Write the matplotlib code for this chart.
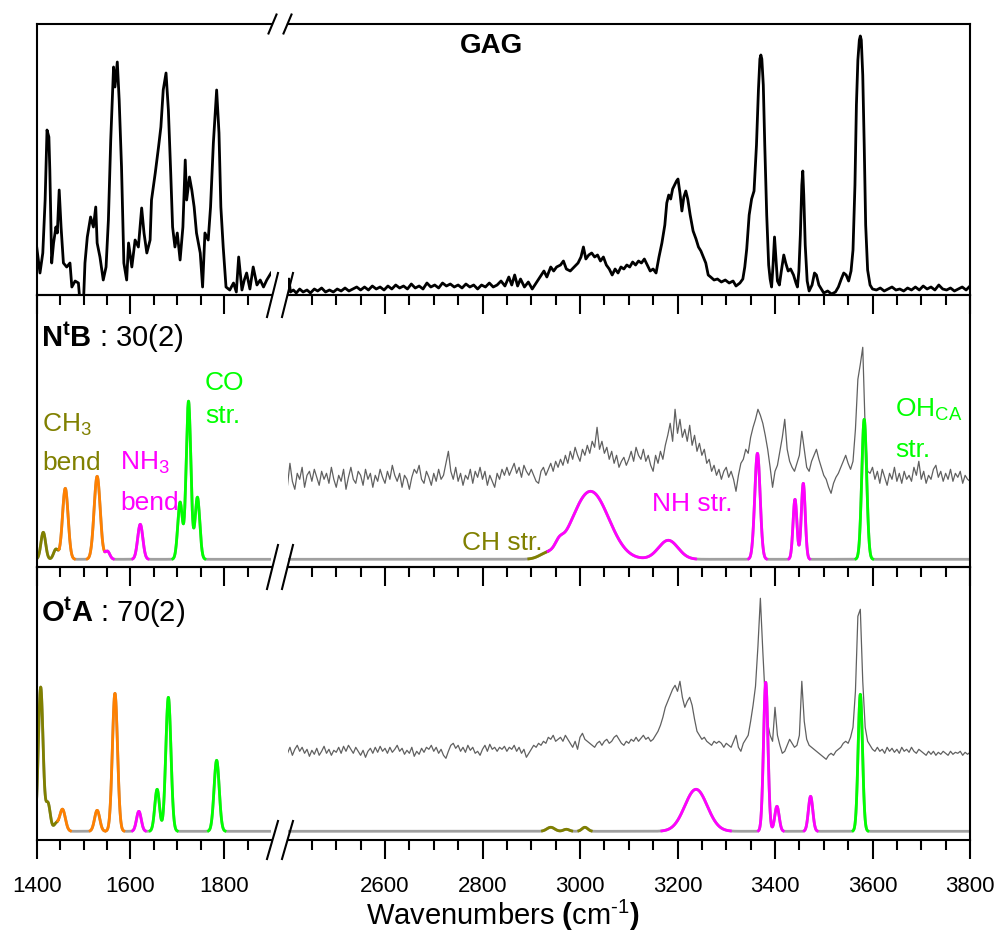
import numpy as np
import matplotlib
matplotlib.use("Agg")
import matplotlib.pyplot as plt
from matplotlib.lines import Line2D

plt.rcParams["font.family"] = ["Liberation Sans", "DejaVu Sans"]
plt.rcParams["mathtext.fontset"] = "custom"
plt.rcParams["mathtext.rm"] = "Liberation Sans"
plt.rcParams["mathtext.it"] = "Liberation Sans:italic"
plt.rcParams["mathtext.bf"] = "Liberation Sans:bold"
plt.rcParams["mathtext.default"] = "regular"

# --------------------------------------------------------------------------
# Experimental spectra (arb. intensity, read off the figure)
# --------------------------------------------------------------------------

# GAG action spectrum, low-frequency window
gag_lo_x = [1400, 1407, 1413, 1418, 1422, 1426, 1428, 1432, 1436, 1441, 1444, 1448, 1452,
            1457, 1464, 1471, 1475, 1482, 1489, 1492, 1500, 1503, 1508, 1515, 1521, 1526,
            1529, 1535, 1542, 1548, 1553, 1558, 1564, 1567, 1572, 1576, 1581, 1586, 1592,
            1596, 1603, 1610, 1617, 1624, 1629, 1635, 1642, 1645, 1653, 1660, 1665, 1670,
            1676, 1681, 1686, 1690, 1695, 1700, 1706, 1712, 1717, 1720, 1726, 1731, 1736,
            1741, 1749, 1754, 1759, 1766, 1771, 1777, 1784, 1789, 1793, 1798, 1804, 1812,
            1820, 1826, 1831, 1838, 1843, 1848, 1855, 1862, 1870, 1877, 1884, 1891, 1900]
gag_lo_y = [48, 22, 42, 95, 165, 158, 125, 32, 52, 68, 62, 105, 68,
            32, 28, 32, 8, 14, 12, -5, -5, 32, 58, 78, 68, 88,
            52, 38, 15, 28, 75, 155, 228, 208, 233, 195, 128, 32, 15,
            52, 28, 55, 48, 87, 62, 42, 55, 95, 122, 148, 168, 205,
            222, 185, 122, 68, 48, 62, 35, 68, 135, 95, 118, 105, 88,
            62, 42, 8, 62, 55, 88, 152, 205, 162, 88, 48, 8, 5,
            12, 3, 38, 5, 15, 22, 6, 28, 10, 15, 8, 15, 22]

# GAG action spectrum, high-frequency window
gag_hi_x = [2400, 2403, 2406, 2412, 2418, 2425, 2432, 2440, 2447, 2455, 2462, 2470, 2478,
            2486, 2494, 2502, 2510, 2518, 2526, 2534, 2542, 2550, 2558, 2566, 2574, 2582,
            2590, 2598, 2606, 2614, 2622, 2630, 2638, 2646, 2654, 2662, 2670, 2678, 2686,
            2694, 2702, 2710, 2718, 2726, 2734, 2742, 2750, 2758, 2766, 2774, 2782, 2790,
            2798, 2806, 2814, 2822, 2830, 2838, 2846, 2854, 2860, 2866, 2872, 2878, 2886,
            2894, 2902, 2910, 2918, 2926, 2932, 2940, 2946, 2952, 2960, 2966, 2972, 2980,
            2988, 2996, 3002, 3007, 3012, 3018, 3024, 3030, 3036, 3042, 3048, 3054, 3060,
            3066, 3072, 3078, 3084, 3090, 3096, 3102, 3108, 3114, 3120, 3126, 3132, 3138,
            3144, 3150, 3156, 3162, 3168, 3174, 3178, 3182, 3186, 3190, 3194, 3198, 3201,
            3205, 3209, 3213, 3217, 3221, 3226, 3232, 3238, 3243, 3248, 3253, 3258, 3263,
            3268, 3275, 3282, 3290, 3298, 3306, 3314, 3320, 3328, 3334, 3338, 3342, 3347,
            3352, 3357, 3362, 3366, 3369, 3371, 3373, 3376, 3379, 3383, 3387, 3390, 3393,
            3396, 3399, 3402, 3405, 3409, 3413, 3418, 3422, 3427, 3432, 3438, 3443, 3446,
            3449, 3452, 3455, 3457, 3459, 3462, 3466, 3470, 3476, 3481, 3485, 3490, 3495,
            3500, 3508, 3516, 3524, 3530, 3536, 3541, 3546, 3551, 3556, 3560, 3564, 3567,
            3570, 3573, 3575, 3577, 3580, 3583, 3586, 3590, 3595, 3600, 3608, 3616, 3624,
            3632, 3640, 3648, 3656, 3664, 3672, 3680, 3688, 3696, 3704, 3712, 3720, 3728,
            3736, 3744, 3752, 3760, 3768, 3776, 3784, 3792, 3800]
gag_hi_y = [3, 16, 3, 5, 2, 6, 3, 5, 2, 6, 4, 7, 3,
            5, 3, 6, 4, 7, 4, 6, 8, 5, 8, 5, 9, 6,
            8, 5, 9, 6, 10, 7, 9, 6, 11, 7, 9, 6, 12,
            8, 10, 7, 12, 9, 11, 8, 10, 7, 11, 8, 10, 6,
            10, 8, 12, 8, 10, 14, 9, 18, 10, 20, 9, 16, 8,
            13, 6, 12, 18, 24, 18, 28, 24, 28, 30, 34, 26, 24,
            28, 32, 38, 48, 36, 40, 42, 38, 40, 34, 38, 30, 26,
            20, 26, 22, 28, 26, 30, 28, 33, 30, 34, 32, 36, 30,
            24, 26, 22, 38, 52, 70, 92, 100, 96, 106, 110, 114, 116,
            102, 84, 98, 104, 96, 80, 64, 56, 48, 44, 38, 32, 20,
            18, 15, 16, 13, 15, 12, 14, 9, 12, 16, 28, 46, 80,
            96, 104, 150, 205, 236, 240, 236, 210, 150, 80, 30, 16, 8,
            30, 58, 36, 14, 10, 24, 40, 32, 24, 26, 20, 12, 8,
            24, 60, 110, 124, 100, 50, 14, 4, 10, 22, 20, 10, 6,
            2, 4, 1, 3, 8, 16, 22, 20, 14, 24, 45, 110, 190,
            235, 255, 259, 255, 220, 150, 70, 25, 10, 6, 5, 7, 4,
            6, 8, 5, 6, 4, 7, 5, 8, 5, 9, 6, 8, 5,
            10, 6, 5, 7, 4, 6, 8, 5, 9]

# grey experimental traces in the NtB / OtA panels: one value every 5 cm-1, 2400-3800
exp_step_x = np.arange(2400, 3801, 5)

ntb_exp_y = [74, 96, 78, 70, 86, 80, 92, 72, 84, 88,      # 2400
             78, 90, 82, 74, 88, 80, 86, 76, 92, 80,      # 2450
             72, 84, 78, 90, 70, 82, 92, 80, 76, 88,      # 2500
             84, 74, 90, 80, 86, 72, 84, 78, 90, 82,      # 2550
             76, 88, 80, 94, 84, 78, 86, 72, 84, 80,      # 2600
             70, 82, 90, 86, 94, 80, 76, 88, 82, 74,      # 2650
             86, 78, 90, 80, 84, 96, 108, 88, 80, 92,     # 2700
             78, 86, 74, 84, 80, 90, 76, 88, 82, 92,      # 2750
             80, 88, 74, 84, 78, 72, 86, 80, 90, 84,      # 2800
             92, 84, 90, 96, 86, 92, 82, 94, 88, 84,      # 2850
             90,                                          # 2900
             84, 78, 76, 88, 92, 84, 90, 96, 88, 98,      # 2905
             92, 100, 94, 104, 96, 108, 100, 112, 104, 98,
             110, 104, 114, 106, 118, 112, 132, 110, 118, 106,
             112, 100, 108, 96, 104, 92, 98, 102, 94, 100,
             108, 98, 112, 104, 100, 110, 98, 104, 94, 88,
             104, 96, 108, 100, 114, 124, 136, 118, 150, 126,
             140, 122, 130, 118, 134, 114, 124, 108, 116, 104,
             110, 96, 100, 88, 94, 84, 90, 80, 88, 92,
             82, 88, 80, 68, 84, 96, 100, 110, 106, 122,
             132, 140, 150, 144, 136, 124, 110, 92, 72, 88,
             94, 108, 122, 140, 110, 98, 92, 88, 96, 104,
             128, 110, 92, 88, 98, 104, 110, 100, 92, 84,
             80, 72, 66, 76, 82, 86, 92, 98, 104, 96,
             90, 98, 130, 180, 195, 212, 130, 88, 86, 92,    # 3555
             80, 88, 76, 90, 82, 74, 86, 80, 92, 78,         # 3605
             86, 76, 88, 80, 84, 78, 92, 84, 98, 80,
             88, 76, 84, 80, 90, 94, 82, 88, 78, 86,
             80, 90, 78, 86, 82, 88, 76, 84, 80, 78]

ota_exp_y = [78, 84, 76, 82, 86, 80, 84, 78, 82, 75,      # 2400
             81, 77, 83, 76, 80, 85, 78, 82, 76, 81,
             79, 84, 78, 85, 80, 86, 82, 78, 84, 80,
             76, 81, 74, 80, 83, 78, 84, 79, 85, 80,
             83, 78, 84, 79, 82, 86, 80, 83, 77, 81,
             78, 84, 75, 80, 77, 83, 79, 84, 82, 86,
             80, 84, 78, 82, 76, 73, 80, 86, 88, 83,
             86, 80, 84, 79, 86, 81, 84, 78, 80, 76,
             82, 86, 80, 87, 82, 84, 80, 84, 82, 85,
             80, 84, 82, 86, 80, 84, 78, 82, 74, 78,
             82,                                          # 2900
             86, 84, 88, 86, 90, 88, 94, 92, 96, 90,      # 2905
             92, 94, 90, 96, 92, 88, 84, 90, 82, 94,
             98, 92, 90, 88, 86, 84, 88, 90, 86, 90,
             92, 88, 90, 94, 96, 92, 88, 86, 90, 88,
             92, 90, 94, 90, 93, 96, 92, 94, 90, 92,
             96, 100, 106, 114, 124, 130, 136, 142, 146, 140,
             150, 134, 124, 130, 134, 126, 112, 100, 96, 92,
             94, 90, 88, 86, 90, 88, 90, 88, 84, 88,
             86, 84, 90, 96, 84, 80, 88, 92, 96, 110,
             126, 145, 185, 233, 180, 132, 108, 96, 90, 124,
             96, 86, 78, 80, 86, 92, 88, 84, 86, 96,
             150, 110, 92, 86, 84, 82, 80, 78, 76, 74,
             72, 76, 78, 76, 80, 82, 84, 88, 90, 88,
             94, 104, 140, 215, 222, 150, 104, 90, 86, 82,   # 3555
             80, 84, 80, 82, 78, 84, 80, 83, 79, 82,         # 3605
             78, 84, 80, 82, 79, 84, 80, 78, 82, 80,
             78, 76, 80, 77, 80, 76, 79, 77, 80, 78,
             76, 80, 77, 79, 78, 80, 76, 79, 77, 79]

# --------------------------------------------------------------------------
# Computed stick spectra: position (cm-1), intensity, broadening width, mode
# --------------------------------------------------------------------------

ntb_pos = [1414, 1441, 1461, 1529, 1551, 1621, 1706, 1724, 1743,
           2930, 2957, 3008, 3036, 3181, 3364, 3441, 3458, 3583]
ntb_int = [27, 10, 71, 83, 8, 35, 57, 158, 62,
           4, 7, 38, 36, 19, 106, 60, 76, 140]
ntb_wid = [5, 5, 6, 6.5, 5, 5.5, 5, 5, 5,
           15, 8, 34, 34, 20, 5.5, 4, 4, 5]
ntb_mode = ["CH", "CH", "mix", "mix", "NH", "NH", "CO", "CO", "CO",
            "CH", "CH", "NH", "NH", "NH", "NH", "NH", "NH", "OH"]

ota_pos = [1408.5, 1424, 1441, 1455, 1529, 1567, 1618, 1657, 1681, 1784,
           2940, 2972, 3010, 3238, 3381, 3404, 3473, 3575]
ota_int = [144, 28, 7, 22, 21, 138, 20, 42, 134, 71,
           4, 2, 4, 42, 149, 25, 35, 137]
ota_wid = [5, 5, 5, 6, 5.5, 5.5, 5, 5, 5.5, 5.5,
           8, 6, 6, 23, 4.5, 4.5, 4.5, 4.5]
ota_mode = ["CH", "CH", "CH", "mix", "mix", "mix", "NH", "CO", "CO", "CO",
            "CH", "CH", "CH", "NH", "NH", "NH", "NH", "OH"]

MODE_COLORS = {"CH": "#808000", "mix": "#FF8000", "NH": "#FF00FF",
               "CO": "#00FF00", "OH": "#00FF00"}
BASE_GRAY = "#A0A0A0"
EXP_GRAY = "#606060"

# x windows of the broken axis
LO_RANGE = (1400, 1900)
HI_RANGE = (2400, 3800)


def plot_calc(ax, x, pos, inten, wid, modes):
    """Gaussian-broadened sticks, each stretch coloured by its dominant mode."""
    comps = np.array([h * np.exp(-(x - p) ** 2 / (2 * w ** 2))
                      for p, h, w in zip(pos, inten, wid)])
    total = comps.sum(axis=0)
    ax.plot(x, total, color=BASE_GRAY, lw=2.0, solid_capstyle="butt")

    # sum the contributions per mode, then colour by the largest one
    names = list(dict.fromkeys(modes))
    per_mode = np.array([comps[[m == n for m in modes]].sum(axis=0) for n in names])
    colors = np.array([MODE_COLORS[names[i]] for i in per_mode.argmax(axis=0)])
    colors[total < 0.4] = BASE_GRAY

    start = 0
    for i in range(1, len(x) + 1):
        if i == len(x) or colors[i] != colors[start]:
            if colors[start] != BASE_GRAY:
                ax.plot(x[start:i + 1], total[start:i + 1], color=colors[start], lw=2.0)
            start = i


# --------------------------------------------------------------------------
# Layout (pixel geometry of the original)
# --------------------------------------------------------------------------

W, H = 1003, 936
fig = plt.figure(figsize=(W / 100, H / 100), dpi=100)

X_LO = (36.7, 271.0)
X_HI = (287.5, 970.0)
ROWS = [(24, 295), (295, 567), (567, 839.5)]
YLIMS = [(0, 271), (-7.7, 264.3), (-8.2, 264.3)]


def px_axes(xs, ys):
    (x0, x1), (y0, y1) = xs, ys
    return fig.add_axes([x0 / W, 1 - y1 / H, (x1 - x0) / W, (y1 - y0) / H])


axes = []
for r, (ys, ylim) in enumerate(zip(ROWS, YLIMS)):
    ax_lo = px_axes(X_LO, ys)
    ax_hi = px_axes(X_HI, ys)
    for ax, xr in ((ax_lo, LO_RANGE), (ax_hi, HI_RANGE)):
        ax.set_facecolor("none")
        ax.set_xlim(*xr)
        ax.set_ylim(*ylim)
        ax.set_yticks([])
        for s in ax.spines.values():
            s.set_linewidth(1.5)
        # bottom ticks point out, i.e. into the next panel down
        ax.tick_params(axis="x", which="major", direction="out", length=14, width=1.5,
                       top=False, labelsize=16, pad=12, labelbottom=(r == 2))
        ax.tick_params(axis="x", which="minor", direction="out", length=7.5, width=1.5,
                       top=False)
    ax_lo.spines["right"].set_visible(False)
    ax_hi.spines["left"].set_visible(False)
    ax_lo.set_xticks([1400, 1600, 1800])
    ax_lo.set_xticks([1450, 1500, 1550, 1650, 1700, 1750, 1850], minor=True)
    ax_hi.set_xticks(np.arange(2600, 3801, 200))
    ax_hi.set_xticks([t for t in range(2450, 3800, 50) if t % 200], minor=True)
    axes.append((ax_lo, ax_hi))

# --------------------------------------------------------------------------
# Panel 1: GAG experiment
# --------------------------------------------------------------------------

ax_lo, ax_hi = axes[0]
ax_lo.plot(gag_lo_x, gag_lo_y, color="black", lw=2.0)
ax_hi.plot(gag_hi_x, gag_hi_y, color="black", lw=2.0)
ax_hi.text(2819, 242, "GAG", fontsize=20, fontweight="bold", ha="center", va="baseline")

# --------------------------------------------------------------------------
# Panels 2 and 3: computed spectra with experiment overlaid
# --------------------------------------------------------------------------

x_lo = np.arange(LO_RANGE[0], LO_RANGE[1] + 0.1, 0.5)
x_hi = np.arange(HI_RANGE[0], HI_RANGE[1] + 0.1, 0.5)

for (ax_lo, ax_hi), ey, pos, inten, wid, modes in [
        (axes[1], ntb_exp_y, ntb_pos, ntb_int, ntb_wid, ntb_mode),
        (axes[2], ota_exp_y, ota_pos, ota_int, ota_wid, ota_mode)]:
    ax_hi.plot(exp_step_x, ey, color=EXP_GRAY, lw=0.9)
    plot_calc(ax_lo, x_lo, pos, inten, wid, modes)
    plot_calc(ax_hi, x_hi, pos, inten, wid, modes)

ax_lo, ax_hi = axes[1]
ax_lo.text(1409, 212.6, r"$\mathbf{N^{t}B}$ : 30(2)", fontsize=21, va="baseline")
ax_lo.text(1412, 127.6, r"CH$_3$", fontsize=19, color="#808000", va="baseline")
ax_lo.text(1412, 89.3, "bend", fontsize=19, color="#808000", va="baseline")
ax_lo.text(1578, 89.3, r"NH$_3$", fontsize=19, color="#FF00FF", va="baseline")
ax_lo.text(1578, 49.3, "bend", fontsize=19, color="#FF00FF", va="baseline")
ax_lo.text(1759, 169.3, "CO", fontsize=19, color="#00FF00", va="baseline")
ax_lo.text(1759, 136, "str.", fontsize=19, color="#00FF00", va="baseline")
ax_hi.text(2757, 9.3, "CH str.", fontsize=19, color="#808000", va="baseline")
ax_hi.text(3147, 48.6, "NH str.", fontsize=19, color="#FF00FF", va="baseline")
ax_hi.text(3646, 142.6, r"OH$_{CA}$", fontsize=19, color="#00FF00", va="baseline")
ax_hi.text(3646, 102.6, "str.", fontsize=19, color="#00FF00", va="baseline")

ax_lo, ax_hi = axes[2]
ax_lo.text(1409, 209, r"$\mathbf{O^{t}A}$ : 70(2)", fontsize=21, va="baseline")

# --------------------------------------------------------------------------
# Axis-break marks and x label
# --------------------------------------------------------------------------


def slash(x, y, dx, dy):
    fig.add_artist(Line2D([(x + dx) / W, (x - dx) / W], [1 - (y - dy) / H, 1 - (y + dy) / H],
                          transform=fig.transFigure, color="black", lw=1.5))


for xe in (X_LO[1] + 1.5, X_HI[0]):
    slash(xe, 24, 4, 9.5)
    slash(xe, 295, 5.5, 22)
    slash(xe, 567, 5.5, 22)
    slash(xe, 840, 5.5, 19)

fig.text(503 / W, 1 - 915 / H, "Wavenumbers $\\mathbf{(}\\mathrm{cm}^{\u2010 1}\\mathbf{)}$",
         fontsize=21, ha="center", va="center")

fig.savefig("out.png", dpi=100)
